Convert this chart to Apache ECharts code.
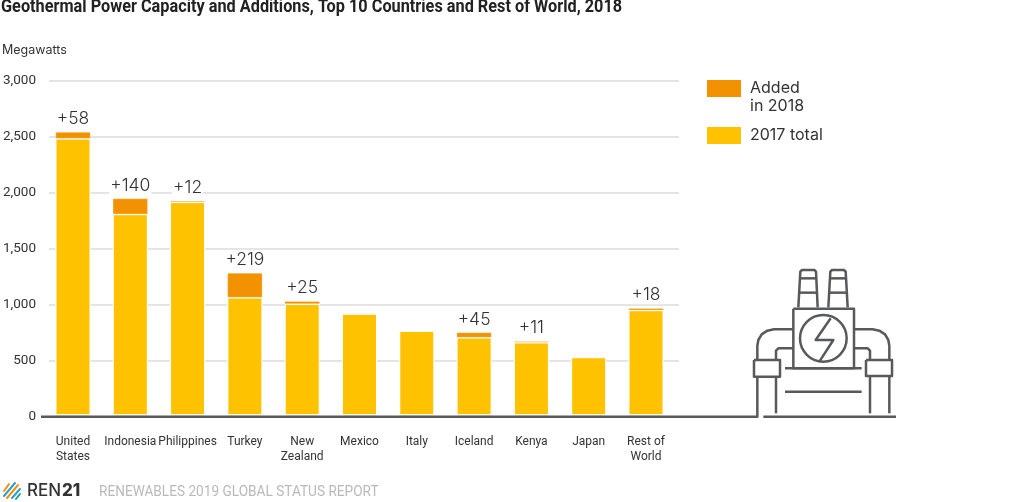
<!DOCTYPE html>
<html>
<head>
<meta charset="utf-8">
<style>html,body{margin:0;padding:0;background:#fff}#main{width:1024px;height:502px}</style>
<script src="https://cdn.jsdelivr.net/npm/echarts@6/dist/echarts.min.js"></script>
</head>
<body>
<div id="main"></div>
<script>
var categories = ['United\nStates', 'Indonesia', 'Philippines', 'Turkey', 'New\nZealand', 'Mexico', 'Italy', 'Iceland', 'Kenya', 'Japan', 'Rest of\nWorld'];
var total2017 = [2483, 1808, 1916, 1064, 1006, 919, 766, 707, 663, 531, 951];
var added2018 = [58, 140, 12, 219, 25, null, null, 45, 11, null, 18];
var yTicks = [0, 500, 1000, 1500, 2000, 2500, 3000];

var bodyFont = 'Inter, Roboto, sans-serif';
var narrowFont = 'Roboto, sans-serif';
var iconColor = '#58595b';

// 发电站图标 (坐标按3倍绘制，再缩小)
var plantLines = [
	[[355, 172], [361, 65], [366, 60], [403, 60], [408, 65], [413, 172]],
	[[358, 85], [410, 85]], [[356, 128], [412, 128]],
	[[445, 172], [451, 65], [456, 60], [492, 60], [497, 65], [503, 172]],
	[[448, 85], [500, 85]], [[446, 128], [502, 128]],
	[[340, 176], [522, 176], [522, 355], [340, 355], [340, 176]],
	[[315, 355], [545, 355]], [[315, 425], [545, 425]],
	[[452, 205], [407, 270], [460, 270], [420, 332]],
	[[338, 238], [282, 238], [262, 242], [245, 253], [235, 270], [232, 288], [232, 330]],
	[[338, 295], [295, 295], [288, 302], [288, 330]],
	[[222, 330], [300, 330], [300, 380], [222, 380], [222, 330]],
	[[232, 380], [232, 500], [0, 500]], [[288, 380], [288, 490]],
	[[522, 238], [578, 238], [598, 242], [615, 253], [625, 270], [628, 288], [628, 330]],
	[[522, 295], [563, 295], [570, 302], [570, 330]],
	[[558, 330], [636, 330], [636, 378], [558, 378], [558, 330]],
	[[628, 378], [628, 490]], [[570, 378], [570, 490]], [[250, 500], [648, 500]]
];
var plantChildren = plantLines.map(function(pts) {
	return {type: 'polyline', shape: {points: pts}, style: {fill: null, stroke: iconColor, lineWidth: 7.5, lineJoin: 'round'}};
});
plantChildren.push({type: 'circle', shape: {cx: 430, cy: 265, r: 70}, style: {fill: null, stroke: iconColor, lineWidth: 7.5}});

// REN21 标志的斜条纹
var logoStripes = [
	{c: '#f39200', p: [4, 491, 9, 484]}, {c: '#2a9fd6', p: [4, 496, 15, 483]},
	{c: '#f39200', p: [7, 498, 18, 485]}, {c: '#2a9fd6', p: [12, 498, 20, 489]},
	{c: '#1aa39a', p: [16, 499, 20, 494]}
];
var logoChildren = logoStripes.map(function(s) {
	return {type: 'line', shape: {x1: s.p[0], y1: s.p[1], x2: s.p[2], y2: s.p[3]}, style: {stroke: s.c, lineWidth: 2, lineCap: 'round'}};
});

var myChart = echarts.init(document.getElementById('main'));
var option = {
	animation: false,
	title: {text: 'Megawatts', left: 2, top: 43.5, padding: 0, textStyle: {fontFamily: bodyFont, fontSize: 12.5, fontWeight: 'normal', color: '#333'}},
	legend: {
		orient: 'vertical', left: 707, top: 61.5, padding: 0, itemWidth: 34, itemHeight: 17, itemGap: 11, icon: 'rect', itemStyle: {borderWidth: 0},
		data: ['Added in 2018', '2017 total'],
		// 前面空一行，让色块对齐第一行文字
		formatter: function(name) { return name.indexOf('Added') === 0 ? '\nAdded\nin 2018' : name; },
		textStyle: {fontFamily: bodyFont, fontSize: 16, lineHeight: 18, color: '#333', padding: [0, 0, 0, 4]}
	},
	// 第一个grid只画网格线，第二个grid画柱子
	grid: [
		{left: 41, width: 638, top: 80.7, height: 336},
		{left: 44.35, width: 630.3, top: 80.7, height: 336}
	],
	xAxis: [
		{gridIndex: 0, type: 'category', data: categories, show: false},
		{gridIndex: 1, type: 'category', data: categories,
			axisLine: {show: false}, axisTick: {show: false},
			axisLabel: {interval: 0, margin: 18, fontFamily: 'Roboto, sans-serif', fontSize: 12, lineHeight: 15, color: '#333'}}
	],
	yAxis: [
		{gridIndex: 0, type: 'value', min: 0, max: 3000, interval: 500,
			axisLine: {show: false}, axisTick: {show: false},
			axisLabel: {margin: 13, fontFamily: 'Roboto, sans-serif', fontSize: 13.5, color: '#333',
				formatter: function(v) { return yTicks.indexOf(v) >= 0 ? v.toLocaleString('en-US') : ''; }},
			splitLine: {lineStyle: {color: '#dcdcdc', width: 1.5}}},
		{gridIndex: 1, type: 'value', min: 0, max: 3000, interval: 500, show: false, splitLine: {show: false}}
	],
	series: [
		{name: '2017 total', type: 'bar', xAxisIndex: 1, yAxisIndex: 1, stack: 'cap', barWidth: 35, data: total2017,
			itemStyle: {color: '#ffc200', borderColor: '#fff', borderWidth: 1}},
		{name: 'Added in 2018', type: 'bar', xAxisIndex: 1, yAxisIndex: 1, stack: 'cap', barWidth: 35, data: added2018,
			itemStyle: {color: '#f39200', borderColor: 'rgba(255,255,255,0.6)', borderWidth: 0.5},
			label: {show: true, position: 'top', distance: 4, fontFamily: bodyFont, fontSize: 17.5, fontWeight: 300, color: '#333',
				backgroundColor: '#fff', padding: [0, 1, 0, 1],
				formatter: function(p) { return p.value == null ? '' : '+' + p.value; }}}
	],
	graphic: [
		{type: 'line', shape: {x1: 41, y1: 414.8, x2: 680, y2: 414.8}, z: 9, style: {stroke: '#fff', lineWidth: 1.5}},
		{type: 'line', shape: {x1: 41, y1: 416.7, x2: 680, y2: 416.7}, z: 10, style: {stroke: iconColor, lineWidth: 2.5}},
		{type: 'group', x: 680, y: 250, scaleX: 1 / 3, scaleY: 1 / 3, z: 10, children: plantChildren},
		{type: 'group', x: 0, y: 0, children: logoChildren},
		{type: 'text', x: 1, y: -2, scaleX: 0.88, z: 10, style: {text: 'Geothermal Power Capacity and Additions, Top 10 Countries and Rest of World, 2018', fontFamily: narrowFont, fontSize: 18.5, fontWeight: 'bold', fill: '#222'}},
		{type: 'text', x: 27, y: 482, style: {text: 'REN', fontFamily: bodyFont, fontSize: 17, fontWeight: 500, fill: '#333'}},
		{type: 'text', x: 62, y: 482, style: {text: '21', fontFamily: bodyFont, fontSize: 17, fontWeight: 800, fill: '#333'}},
		{type: 'text', x: 99, y: 484, scaleX: 0.88, style: {text: 'RENEWABLES 2019 GLOBAL STATUS REPORT', fontFamily: narrowFont, fontSize: 15.5, fill: '#b9b9b9'}}
	]
};
myChart.setOption(option);
</script>
</body>
</html>
